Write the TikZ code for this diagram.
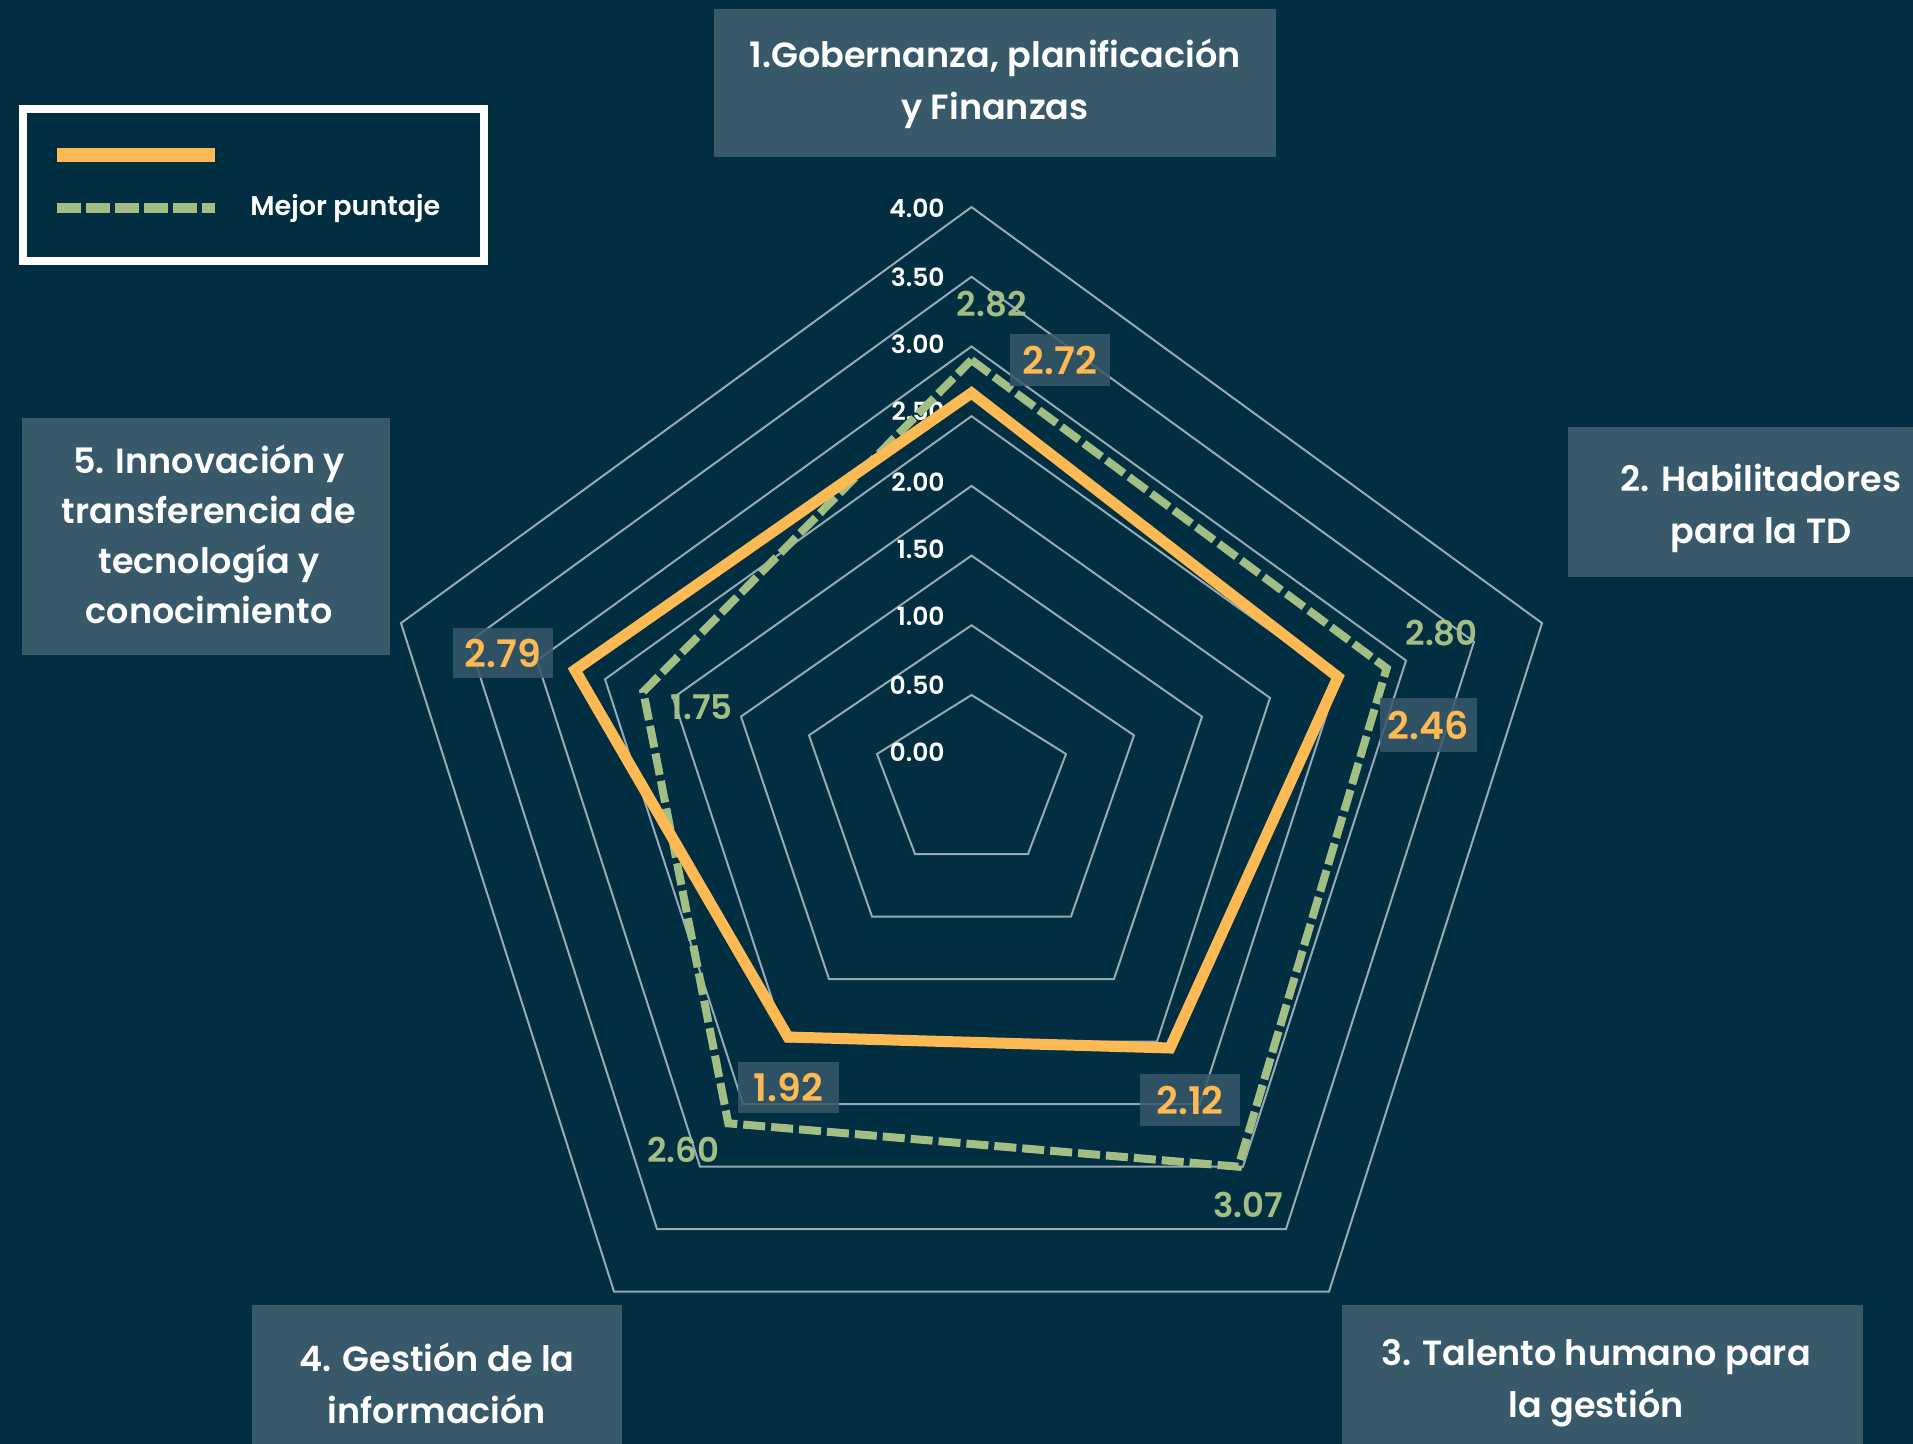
\documentclass[tikz,border=0pt]{standalone}
\usepackage{fontspec}
\setmainfont{Poppins}[BoldFont={Poppins SemiBold}]
\definecolor{bgcol}{RGB}{1,46,65}
\definecolor{boxcol}{RGB}{55,89,106}
\definecolor{ringcol}{RGB}{150,170,180}
\definecolor{orangecol}{RGB}{253,185,83}
\definecolor{greencol}{RGB}{163,190,132}
\tikzset{
  ring/.style={draw=ringcol, line width=1pt, line join=miter},
  orangeline/.style={draw=orangecol, line width=5.5pt, line join=miter},
  greenline/.style={draw=greencol, line width=4pt, dash pattern=on 11pt off 3pt, line join=miter},
  axislbl/.style={anchor=east, text=white, font=\fontsize{12.5}{14}\selectfont\bfseries, inner sep=0pt},
  cattext/.style={text=white, align=center, font=\fontsize{17.5}{26}\selectfont\bfseries, inner sep=0pt},
  orangelbl/.style={fill=boxcol, fill opacity=0.85, text opacity=1, text=orangecol, font=\fontsize{19}{20}\selectfont\bfseries, inner sep=0pt, minimum width=50pt, minimum height=26pt},
  greenlbl/.style={text=greencol, font=\fontsize{17}{18}\selectfont\bfseries, inner sep=0pt},
}
\begin{document}
\begin{tikzpicture}[x=0.5pt,y=-0.5pt]
\useasboundingbox (0,0) rectangle (1913,1444);
\fill[bgcol] (0,0) rectangle (1913,1444);
% rings
\foreach \k in {0,...,7}{
  \draw[ring] (971.5,{695-69.7*\k}) -- ({1066+68*\k},{754-18.7*\k}) -- ({1028+43*\k},{854+62.5*\k}) -- ({915-43*\k},{854+62.5*\k}) -- ({877-68*\k},{754-18.7*\k}) -- cycle;
}
% axis labels
\node[axislbl] (a400) at (945,208.7) {4.00};
\node[axislbl] (a350) at (945,277.6) {3.50};
\node[axislbl] (a300) at (945,344.6) {3.00};
\node[axislbl] (a250) at (945,411.5) {2.50};
\node[axislbl] (a200) at (945,482.3) {2.00};
\node[axislbl] (a150) at (945,549.3) {1.50};
\node[axislbl] (a100) at (945,616.3) {1.00};
\node[axislbl] (a050) at (945,685.2) {0.50};
\node[axislbl] (a000) at (945,752.1) {0.00};
% data vertices
\coordinate (o1) at (971.5,393);
\coordinate (o2) at (1338,677);
\coordinate (o3) at (1170,1048);
\coordinate (o4) at (788,1037);
\coordinate (o5) at (575,670);
\coordinate (g1) at (971.5,360);
\coordinate (g2) at (1386.7,668.3);
\coordinate (g3) at (1238.3,1166.7);
\coordinate (g4) at (728.3,1123.3);
\coordinate (g5) at (643.3,691.7);
\draw[greenline] (g1) -- (g2) -- (g3) -- (g4) -- (g5) -- cycle;
\draw[orangeline] (o1) -- (o2) -- (o3) -- (o4) -- (o5) -- cycle;
% value labels
\node[greenlbl] (v1g) at (991.7,304.4) {2.82};
\node[orangelbl] (v1o) at (1060,360) {2.72};
\node[greenlbl] (v2g) at (1441.7,633.3) {2.80};
\node[orangelbl, minimum width=48.5pt, minimum height=27pt] (v2o) at (1428.5,725) {2.46};
\node[greenlbl] (v3g) at (1248.3,1205) {3.07};
\node[orangelbl] (v3o) at (1190,1100) {2.12};
\node[greenlbl] (v4g) at (683.3,1150) {2.60};
\node[orangelbl, minimum width=50.5pt, minimum height=25.5pt] (v4o) at (788.5,1087.5) {1.92};
\node[greenlbl] (v5g) at (701.7,706.7) {1.75};
\node[orangelbl, minimum height=25pt] (v5o) at (503,653) {2.79};
% category boxes
\fill[boxcol] (714,9) rectangle (1276,157);
\node[cattext] (c1) at (995,84) {1.Gobernanza, planificación\\y Finanzas};
\fill[boxcol] (1568,427) rectangle (1913,577);
\node[cattext] (c2) at (1761,508) {2. Habilitadores\\para la TD};
\fill[boxcol] (1342,1305) rectangle (1863,1444);
\node[cattext] (c3) at (1596,1383) {3. Talento humano para\\la gestión};
\fill[boxcol] (252,1305) rectangle (622,1444);
\node[cattext] (c4) at (437,1383) {4. Gestión de la\\información};
\fill[boxcol] (22,418) rectangle (390,655);
\node[cattext, font=\fontsize{17.5}{25}\selectfont\bfseries] (c5) at (209,534) {5. Innovación y\\transferencia de\\tecnología y\\conocimiento};
% legend
\draw[white, line width=4pt] (22.5,109.5) rectangle (484,261);
\coordinate (lo1) at (57,155.5);
\coordinate (lo2) at (215,155.5);
\coordinate (lg1) at (57,208);
\coordinate (lg2) at (215,208);
\draw[draw=orangecol, line width=7pt] (lo1) -- (lo2);
\draw[draw=greencol, line width=5pt, dash pattern=on 12pt off 2.5pt] (lg1) -- (lg2);
\node[anchor=west, text=white, font=\fontsize{13.5}{15}\selectfont\bfseries, inner sep=0pt] (leg) at (250,208) {Mejor puntaje};
\end{tikzpicture}
\end{document}
